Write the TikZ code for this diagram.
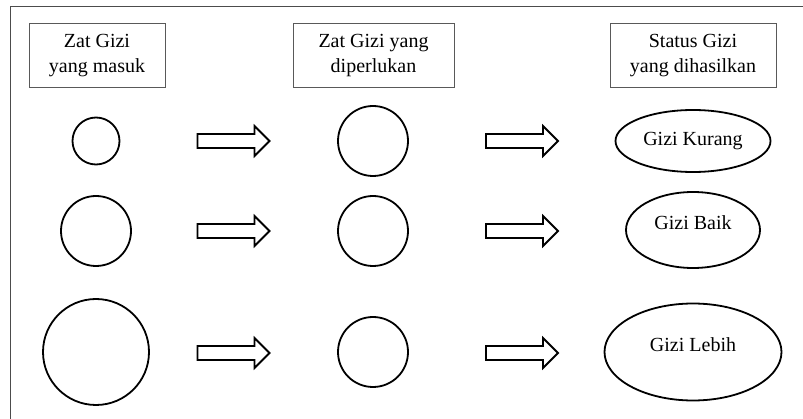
\documentclass[tikz,border=0pt]{standalone}
\usepackage{fontspec}
\setmainfont{Liberation Serif}
\usetikzlibrary{shapes.geometric}

\begin{document}
\begin{tikzpicture}[x=1pt,y=-1pt,
  txt/.style={font=\fontsize{20}{25}\selectfont},
  headbox/.style={draw=black!65,line width=1pt,txt,align=center,inner sep=0pt,minimum height=64pt},
  ring/.style={circle,draw,line width=1.8pt,inner sep=0pt},
  oval/.style={ellipse,draw,line width=1.8pt,inner sep=0pt,txt},
  arrowline/.style={draw,line width=1.8pt,line join=miter},
  blockarrow/.pic={\path[arrowline] (0,-7) -- (57,-7) -- (57,-15) -- (72,0) -- (57,15) -- (57,7) -- (0,7) -- cycle;}
]
\useasboundingbox (0,0) rectangle (803,419);

% frame
\draw[black!70,line width=1pt] (803,7) -- (10.5,7) -- (10.5,419);

% column headings
\node[headbox,minimum width=136pt] (h1) at (97,56) {Zat Gizi\\yang masuk};
\node[headbox,minimum width=161pt] (h2) at (373.5,56) {Zat Gizi yang\\diperlukan};
\node[headbox,minimum width=166pt] (h3) at (693,56) {Status Gizi\\yang dihasilkan};

% intake
\node[ring,minimum size=47pt] (in1) at (96,141) {};
\node[ring,minimum size=70pt] (in2) at (96,231) {};
\node[ring,minimum size=106pt] (in3) at (96,352) {};

% requirement
\node[ring,minimum size=70pt] (rq1) at (373,141) {};
\node[ring,minimum size=70pt] (rq2) at (373,231) {};
\node[ring,minimum size=70pt] (rq3) at (373,352) {};

% resulting status
\node[oval,minimum width=155pt,minimum height=62pt] (st1) at (693,141) {Gizi Kurang};
\node[oval,minimum width=134pt,minimum height=76pt,label={[txt,yshift=7pt]center:Gizi Baik}] (st2) at (693,230) {};
\node[oval,minimum width=177pt,minimum height=97pt,label={[txt,yshift=7pt]center:Gizi Lebih}] (st3) at (693,352) {};

% block arrows
\foreach \yy in {141,231,353}{
  \pic at (197.5,\yy) {blockarrow};
  \pic at (486,\yy) {blockarrow};
}
\end{tikzpicture}
\end{document}
